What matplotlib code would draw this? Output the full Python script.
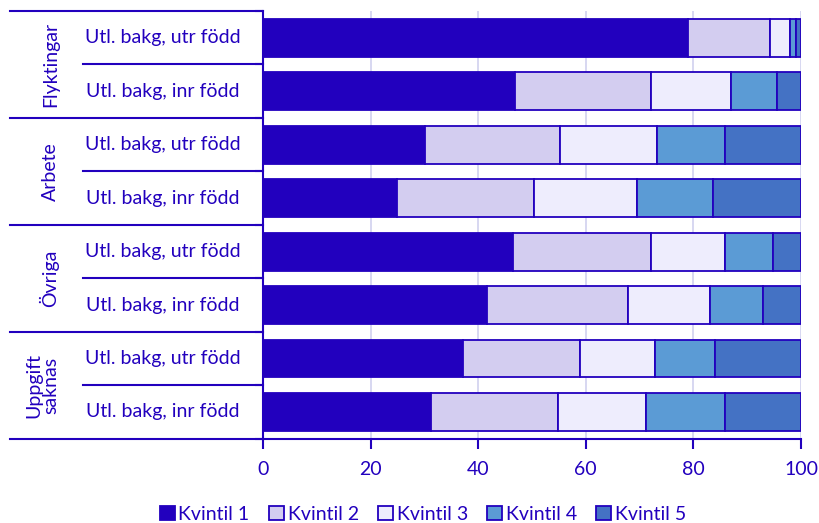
import matplotlib.pyplot as plt
from matplotlib.transforms import blended_transform_factory

# data
groups = ['Flyktingar', 'Arbete', 'Övriga', 'Uppgift\nsaknas']
rows = ['Utl. bakg, utr född', 'Utl. bakg, inr född'] * 4
series = ['Kvintil 1', 'Kvintil 2', 'Kvintil 3', 'Kvintil 4', 'Kvintil 5']
kv1 = [79.0, 46.8, 30.2, 25.0, 46.5, 41.7, 37.2, 31.3]
kv2 = [15.3, 25.4, 25.0, 25.4, 25.7, 26.1, 21.7, 23.5]
kv3 = [3.7, 14.8, 18.1, 19.1, 13.6, 15.2, 14.0, 16.3]
kv4 = [1.1, 8.5, 12.5, 14.2, 9.0, 9.9, 11.1, 14.7]
kv5 = [0.9, 4.5, 14.2, 16.3, 5.2, 7.1, 16.0, 14.2]

blue = '#2200BE'
colors = [blue, '#D3CDF0', '#EEEDFD', '#5B9BD5', '#4472C4']

plt.rcParams['font.family'] = ['Lato', 'DejaVu Sans']
plt.rcParams['font.size'] = 14

fig = plt.figure(figsize=(8.2, 5.23), dpi=100)
ax = fig.add_axes([263 / 820, 1 - 438.7 / 523, (801 - 263) / 820, (438.7 - 11) / 523])

ypos = list(range(len(rows)))
left = [0.0] * len(rows)
for vals, col, name in zip([kv1, kv2, kv3, kv4, kv5], colors, series):
    ax.barh(ypos, vals, left=left, height=0.71, color=col, edgecolor=blue,
            linewidth=1.3, label=name, zorder=3)
    left = [a + b for a, b in zip(left, vals)]

ax.set_xlim(0, 100)
ax.set_ylim(len(rows) - 0.5, -0.5)
ax.set_xticks([0, 20, 40, 60, 80, 100])
ax.grid(axis='x', color='#D4D4F0', linewidth=1.3, zorder=0)
ax.set_yticks([i - 0.5 for i in range(len(rows) + 1)])
ax.set_yticklabels([])
ax.tick_params(axis='y', length=6, width=1.5, color=blue)
ax.tick_params(axis='x', length=7, width=1.5, color=blue, labelcolor=blue, pad=9)
for s in ['top', 'right']:
    ax.spines[s].set_visible(False)
for s in ['left', 'bottom']:
    ax.spines[s].set_color(blue)
    ax.spines[s].set_linewidth(1.5)

# kategori-etiketter till vänster
tr = blended_transform_factory(fig.transFigure, ax.transData)
x_axis = 263 / 820
for i, lab in enumerate(rows):
    ax.text(163 / 820, i, lab, transform=tr, ha='center', va='center', color=blue)
for k in range(len(rows) + 1):
    x0 = 10 / 820 if k % 2 == 0 else 83 / 820
    ax.plot([x0, x_axis], [k - 0.5, k - 0.5], transform=tr, color=blue,
            linewidth=1.5, clip_on=False)
for g, lab in enumerate(groups):
    ax.text(59 / 820, 2 * g + 0.5, lab, transform=tr, rotation=90, ha='right',
            va='center', multialignment='center', color=blue, linespacing=0.95)

leg = fig.legend(loc='center', bbox_to_anchor=(423 / 820, 1 - 514 / 523), ncol=5,
                 frameon=False, handlelength=0.75, handleheight=0.75,
                 handletextpad=0.2, columnspacing=1.0)
for t in leg.get_texts():
    t.set_color(blue)

plt.savefig('out.png', dpi=100)
